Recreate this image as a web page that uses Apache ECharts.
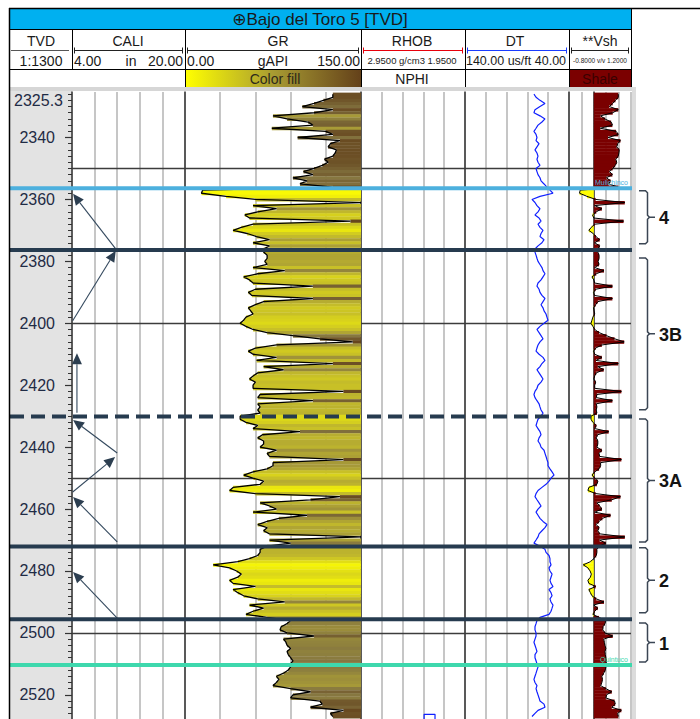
<!DOCTYPE html>
<html>
<head>
<meta charset="utf-8">
<script src="https://cdn.jsdelivr.net/npm/echarts@6/dist/echarts.min.js"></script>
<style>html,body{margin:0;padding:0;background:#fff;}#chart{width:700px;height:719px;}</style>
</head>
<body>
<div id="chart"></div>
<script>
// ---------------- DATA ----------------
const wellTitle = '\u2295Bajo del Toro 5 [TVD]';
const depthTop = 2325.3;
const depthBottom = 2527.8;
const sampleTop = 2326;      // first sample depth (m), 1 m sampling
const sampleStep = 1;

// GR (gAPI), 2326 .. 2527 m
const grValues = [
  126,126,118,110,100,126,110,75,87,105,
  109,74,120,126,96,132,124,122,129,128,
  126,119,122,117,110,101,109,92,104,98,
  126,15,14,35,60,150,58,78,62,51,
  55,141,58,48,41,53,61,72,58,72,
  67,67,70,70,68,70,58,85,62,50,
  55,58,109,60,54,57,109,67,60,54,
  56,58,52,50,47,52,58,70,92,115,
  143,78,60,54,58,78,61,126,67,84,
  62,58,55,60,58,58,135,64,62,109,
  62,64,62,64,47,47,52,62,58,98,
  66,62,67,67,64,78,70,72,135,75,
  75,70,58,50,58,67,64,41,38,60,
  132,107,64,72,78,58,104,80,70,62,
  70,67,72,150,72,90,70,64,64,62,
  55,45,24,38,44,48,45,38,41,60,
  41,45,50,62,85,55,67,58,52,70,
  90,87,82,81,87,110,84,86,87,90,
  87,88,90,92,90,90,88,84,78,80,
  78,75,90,107,92,90,115,117,107,135,124,126
];

// DT (us/ft), 2326 .. 2527 m
const dtValues = [
  73.7,71.7,67.9,63.1,67.9,72.7,73.7,67.9,63.1,66.0,
  69.8,71.7,73.7,71.7,70.8,71.7,68.8,70.8,72.7,70.8,
  69.8,70.8,69.8,67.9,71.7,70.8,69.8,67.9,66.9,64.0,
  61.2,58.3,55.4,67.9,75.6,72.7,70.8,67.9,69.8,72.7,
  68.8,66.9,69.8,67.9,65.0,66.9,67.9,64.0,66.0,69.8,
  72.7,72.7,71.7,70.8,69.8,67.9,66.0,65.0,63.1,65.0,
  66.9,69.8,70.8,68.8,67.9,66.0,63.1,65.0,66.9,65.0,
  64.0,62.1,61.2,60.2,64.0,67.9,70.8,68.8,66.9,65.0,
  67.9,69.8,70.8,71.7,68.8,65.0,63.1,66.0,67.9,70.8,
  68.8,66.9,65.0,66.9,69.8,70.8,72.7,73.7,72.7,70.8,
  68.8,67.9,66.9,65.0,66.9,69.8,70.8,71.7,69.8,67.9,
  66.9,68.8,69.8,67.9,66.9,64.0,63.1,62.1,61.2,60.2,
  60.2,58.3,56.3,54.4,57.3,59.2,62.1,66.0,69.8,71.7,
  72.7,70.8,68.8,66.9,69.8,71.7,69.8,67.9,65.0,61.2,
  63.1,66.0,68.8,69.8,71.7,73.7,67.9,63.1,62.1,59.2,
  58.3,58.3,57.3,59.2,58.3,56.3,57.3,58.3,57.3,55.4,
  59.2,57.3,56.3,58.3,57.3,55.4,56.3,57.3,59.2,67.9,
  70.8,71.7,72.7,72.7,71.7,71.7,72.7,73.7,72.7,71.7,
  70.8,72.7,72.7,71.7,70.8,69.8,70.8,71.7,72.7,73.7,
  72.7,70.8,71.7,70.8,69.8,68.8,67.9,64.0,63.1,69.8,72.7,75.6
];

// Vsh (v/v), 2326 .. 2527 m
const vshValues = [
  0.79,0.79,0.70,0.61,0.50,0.79,0.61,0.22,0.36,0.56,
  0.60,0.21,0.72,0.79,0.46,0.86,0.77,0.74,0.82,0.81,
  0.79,0.71,0.74,0.69,0.61,0.51,0.60,0.41,0.54,0.48,
  0.79,-0.44,-0.46,-0.22,0.06,1.00,0.03,0.26,0.08,-0.04,
  0.00,0.96,0.03,-0.08,-0.16,-0.02,0.07,0.19,0.03,0.19,
  0.13,0.13,0.17,0.17,0.14,0.17,0.03,0.33,0.08,-0.06,
  0.00,0.03,0.60,0.06,-0.01,0.02,0.60,0.13,0.06,-0.01,
  0.01,0.03,-0.03,-0.06,-0.09,-0.03,0.03,0.17,0.41,0.67,
  0.98,0.26,0.06,-0.01,0.03,0.26,0.07,0.79,0.13,0.32,
  0.08,0.03,0.00,0.06,0.03,0.03,0.89,0.10,0.08,0.60,
  0.08,0.10,0.08,0.10,-0.09,-0.09,-0.03,0.08,0.03,0.48,
  0.12,0.08,0.13,0.13,0.10,0.26,0.17,0.19,0.89,0.22,
  0.22,0.17,0.03,-0.06,0.03,0.13,0.10,-0.16,-0.19,0.06,
  0.86,0.58,0.10,0.19,0.26,0.03,0.54,0.28,0.17,0.08,
  0.17,0.13,0.19,1.00,0.19,0.39,0.17,0.10,0.10,0.08,
  0.00,-0.11,-0.34,-0.19,-0.12,-0.08,-0.11,-0.19,-0.16,0.06,
  -0.16,-0.11,-0.06,0.08,0.33,0.00,0.13,0.03,-0.03,0.17,
  0.39,0.36,0.30,0.29,0.36,0.61,0.32,0.34,0.36,0.39,
  0.36,0.37,0.39,0.41,0.39,0.39,0.37,0.32,0.26,0.28,
  0.26,0.22,0.39,0.58,0.41,0.39,0.67,0.69,0.58,0.89,0.77,0.79
];

// NPHI (v/v) – short piece at the bottom of the log
const nphiDepths = [2527.8, 2526.3, 2526.3, 2527.8];
const nphiValues = [0.086, 0.086, 0.023, 0.023];

// Formation tops (m)
const topDepths = [2356.4, 2376.3, 2430.1, 2472.1, 2495.6, 2510.4];
const topNames  = ['Mulichinco', '', '', '', '', 'Quintuco'];

// Unit brackets
const unitLabels  = ['4', '3B', '3A', '2', '1'];
const unitTops    = [2357.2, 2378.9, 2430.9, 2472.5, 2496.8];
const unitBottoms = [2374.3, 2427.9, 2470.6, 2493.5, 2509.4];

// Stacking-pattern arrows in the CALI track: [cali, depth] tail -> head
const arrowTails = [[10.3,2376.3],[4.1,2399.2],[4.7,2428.9],[10.4,2441.9],[4.1,2454.5],[10.4,2470.6],[10.4,2495.2]];
const arrowHeads = [[4.15,2358.2],[10.2,2376.6],[4.7,2409.7],[4.15,2431.2],[10.1,2443.2],[4.15,2456.1],[4.15,2480.3]];

// Depth ticks / labels
const depthLabels = [2340,2360,2380,2400,2420,2440,2460,2480,2500,2520];
const depthTopLabel = [2325.3];
const gridDepths = [2350, 2400, 2450, 2500];
const minorTicks = [];
for (let d = 2326; d <= 2526; d += 2) if (d % 20 !== 0) minorTicks.push(d);

// Header texts
const trackNames = ['TVD', 'CALI', 'GR', 'RHOB', 'DT', '**Vsh'];

// ---------------- BUILD ----------------
const grData  = grValues.map((g, i) => [g, sampleTop + i * sampleStep]);
const dtData  = dtValues.map((v, i) => [v, sampleTop + i * sampleStep]);
const vshData = vshValues.map((v, i) => [v, sampleTop + i * sampleStep]);
const nphiData = nphiValues.map((v, i) => [v, nphiDepths[i]]);
const topData = topDepths.map(d => [0.5, d]);
const unitData = unitTops.map((t, i) => [0.5, t, unitBottoms[i]]);
const arrowData = arrowTails.map((t, i) => [t[0], t[1], arrowHeads[i][0], arrowHeads[i][1]]);
const hlineData = gridDepths.map(d => [0.5, d]);

const FONT = '"Liberation Sans", Arial, "DejaVu Sans", sans-serif';
const TOP = 92, HGT = 627;

const grStops = [
  [0.00, [255,255,0]],
  [0.25, [240,238,10]],
  [0.40, [196,188,42]],
  [0.50, [166,153,56]],
  [0.62, [132,117,64]],
  [0.80, [110,83,40]],
  [1.00, [100,65,25]]
];
function grColor(g) {
  const t = Math.max(0, Math.min(1, g / 150));
  for (let i = 1; i < grStops.length; i++) {
    if (t <= grStops[i][0]) {
      const a = grStops[i-1], b = grStops[i];
      const f = (t - a[0]) / (b[0] - a[0]);
      const c = a[1].map((v, k) => Math.round(v + (b[1][k] - v) * f));
      return 'rgb(' + c.join(',') + ')';
    }
  }
  return 'rgb(100,65,25)';
}

function grFill(params, api) {
  const g = api.value(0), d = api.value(1);
  const a = api.coord([g, d - sampleStep / 2]);
  const b = api.coord([150, d + sampleStep / 2]);
  return { type: 'rect', shape: { x: a[0], y: a[1], width: b[0] - a[0], height: b[1] - a[1] + 0.4 },
           style: { fill: grColor(g) } };
}
function vshFill(params, api) {
  const v = api.value(0), d = api.value(1);
  const a = api.coord([0, d - sampleStep / 2]);
  const b = api.coord([v, d + sampleStep / 2]);
  return { type: 'rect', shape: { x: Math.min(a[0], b[0]), y: a[1], width: Math.abs(b[0] - a[0]), height: b[1] - a[1] + 0.4 },
           style: { fill: v >= 0 ? '#7a0000' : '#ffff00' } };
}
function hlineItem(params, api) {
  const cs = params.coordSys;
  const y = Math.round(api.coord([0, api.value(1)])[1]) + 0.5;
  return { type: 'line', shape: { x1: cs.x, y1: y, x2: cs.x + cs.width, y2: y },
           style: { stroke: '#3c3c3c', lineWidth: 1.5 } };
}
const topStyles = [
  { color: '#4db0de' }, { color: '#263b4f' }, { color: '#263b4f', dash: [14, 7] },
  { color: '#263b4f' }, { color: '#263b4f' }, { color: '#3ed8ad' }
];
function topItem(params, api) {
  const cs = params.coordSys;
  const i = params.dataIndex;
  const y = api.coord([0, api.value(1)])[1];
  const st = topStyles[i];
  const ch = [{ type: 'line', shape: { x1: cs.x, y1: y, x2: cs.x + cs.width, y2: y },
                style: { stroke: st.color, lineWidth: 4, lineDash: st.dash || null } }];
  if (topNames[i]) {
    ch.push({ type: 'text', x: cs.x + cs.width - 8, y: y - 2.5,
              style: { text: topNames[i], fill: st.color, font: '7px ' + FONT,
                       align: 'right', verticalAlign: 'bottom', textAlign: 'right', textVerticalAlign: 'bottom' } });
  }
  return { type: 'group', children: ch };
}
function unitItem(params, api) {
  const cs = params.coordSys;
  const i = params.dataIndex;
  const yt = api.coord([0, api.value(1)])[1];
  const yb = api.coord([0, api.value(2)])[1];
  const ym = (yt + yb) / 2;
  const x0 = cs.x + 3, xv = cs.x + 11.5, xt = cs.x + 19;
  const st = { stroke: '#3b4654', lineWidth: 1.5, fill: null };
  return { type: 'group', children: [
    { type: 'polyline', shape: { points: [[x0, yt], [xv - 2, yt], [xv, yt + 2], [xv, ym - 2], [xv + 2, ym], [xt, ym]] }, style: st },
    { type: 'polyline', shape: { points: [[xv + 2, ym], [xv, ym + 2], [xv, yb - 2], [xv - 2, yb], [x0, yb]] }, style: st },
    { type: 'text', x: cs.x + 23, y: ym + 1,
      style: { text: unitLabels[i], fill: '#141414', font: 'bold 18px ' + FONT,
               align: 'left', verticalAlign: 'middle', textAlign: 'left', textVerticalAlign: 'middle' } }
  ]};
}
function arrowItem(params, api) {
  const p1 = api.coord([api.value(0), api.value(1)]);
  const p2 = api.coord([api.value(2), api.value(3)]);
  const ang = Math.atan2(p2[1] - p1[1], p2[0] - p1[0]);
  const L = 11, W = 5;
  const bx = p2[0] - L * Math.cos(ang), by = p2[1] - L * Math.sin(ang);
  const nx = -Math.sin(ang) * W, ny = Math.cos(ang) * W;
  return { type: 'group', children: [
    { type: 'line', shape: { x1: p1[0], y1: p1[1], x2: bx, y2: by }, style: { stroke: '#34495e', lineWidth: 1.1 } },
    { type: 'polygon', shape: { points: [[p2[0], p2[1]], [bx + nx, by + ny], [bx - nx, by - ny]] }, style: { fill: '#2c3e50' } }
  ]};
}

// grids: 0 depth, 1 CALI, 2 GR, 3 RHOB, 4 DT, 5 Vsh, 6 h-lines, 7 tops, 8 brackets
const gridDefs = [[10,62],[72,113],[185,176],[361,104],[465,104],[569,62],[72,559],[10,626],[636,64]];
const grid = gridDefs.map(g => ({ left: g[0], width: g[1], top: TOP, height: HGT, containLabel: false }));

const hidden = { show: false };
function divAxis(gi) {
  return { gridIndex: gi, type: 'value', min: 0, max: 5, interval: 1,
    axisLine: hidden, axisTick: hidden, axisLabel: hidden,
    splitLine: { show: true, lineStyle: { color: '#b3b3b3', width: 1.5 } } };
}
function dataX(gi, min, max, inverse) {
  return { gridIndex: gi, type: 'value', min, max, inverse: !!inverse, show: false, splitLine: hidden };
}
const xAxis = [
  dataX(0, 0, 1),            // 0
  divAxis(1),                // 1
  dataX(1, 4, 20),           // 2 CALI
  divAxis(2),                // 3
  dataX(2, 0, 150),          // 4 GR
  divAxis(3),                // 5
  dataX(3, -0.15, 0.45, true), // 6 NPHI
  divAxis(4),                // 7
  dataX(4, 40, 140, true),   // 8 DT
  divAxis(5),                // 9
  dataX(5, -0.8, 1.2),       // 10 Vsh
  dataX(6, 0, 1),            // 11
  dataX(7, 0, 1),            // 12
  dataX(8, 0, 1)             // 13
];
function depthY(gi, extra) {
  return Object.assign({ gridIndex: gi, type: 'value', inverse: true, min: depthTop, max: depthBottom,
    axisLine: hidden, axisTick: hidden, axisLabel: hidden, splitLine: hidden }, extra || {});
}
const border = { axisLine: { show: true, lineStyle: { color: '#3a3a3a', width: 1.5 } } };
const yAxis = [
  depthY(0),                                   // 0
  depthY(1, Object.assign({ position: 'left' }, border)), // 1 CALI border
  depthY(1, { position: 'left',                // 2 depth labels + major ticks
    axisTick: { show: true, customValues: depthLabels, length: 7, lineStyle: { color: '#333', width: 1.2 } },
    axisLabel: { show: true, customValues: depthLabels, margin: 17, color: '#1f2b45',
                 fontSize: 16, fontFamily: FONT, formatter: v => String(v) } }),
  depthY(1, { position: 'left',                // 3 minor ticks
    axisTick: { show: true, customValues: minorTicks, length: 4, lineStyle: { color: '#333', width: 1 } } }),
  depthY(1, { position: 'left',                // 4 top depth label
    axisLabel: { show: true, customValues: depthTopLabel, margin: 9, color: '#1f2b45', verticalAlign: 'top',
                 fontSize: 16, fontFamily: FONT, formatter: v => String(v) } }),
  depthY(2, Object.assign({ position: 'left' }, border)),   // 5 GR
  depthY(3, Object.assign({ position: 'left' }, border)),   // 6 RHOB
  depthY(4, Object.assign({ position: 'left' }, border)),   // 7 DT
  depthY(5, Object.assign({ position: 'left' }, border)),   // 8 Vsh
  depthY(5, Object.assign({ position: 'right' }, border)),  // 9 Vsh right
  depthY(6),                                   // 10
  depthY(7),                                   // 11
  depthY(8)                                    // 12
];

const series = [
  { type: 'custom', xAxisIndex: 11, yAxisIndex: 10, data: hlineData, renderItem: hlineItem, encode: { x: 0, y: 1 }, z: 1, silent: true },
  { type: 'custom', xAxisIndex: 4, yAxisIndex: 5, data: grData, renderItem: grFill, encode: { x: 0, y: 1 }, clip: true, z: 2, silent: true },
  { type: 'line', name: 'GR', xAxisIndex: 4, yAxisIndex: 5, data: grData, showSymbol: false, symbol: 'none',
    lineStyle: { color: '#000', width: 1.3 }, clip: true, z: 3, silent: true },
  { type: 'line', name: 'DT', xAxisIndex: 8, yAxisIndex: 7, data: dtData, showSymbol: false, symbol: 'none',
    lineStyle: { color: '#1020ff', width: 1.2 }, clip: true, z: 3, silent: true },
  { type: 'line', name: 'NPHI', xAxisIndex: 6, yAxisIndex: 6, data: nphiData, showSymbol: false, symbol: 'none',
    lineStyle: { color: '#1020ff', width: 1.2 }, clip: true, z: 3, silent: true },
  { type: 'custom', xAxisIndex: 10, yAxisIndex: 8, data: vshData, renderItem: vshFill, encode: { x: 0, y: 1 }, clip: true, z: 2, silent: true },
  { type: 'line', name: 'Vsh', xAxisIndex: 10, yAxisIndex: 8, data: vshData, showSymbol: false, symbol: 'none',
    lineStyle: { color: '#000', width: 1 }, clip: true, z: 3, silent: true },
  { type: 'custom', xAxisIndex: 2, yAxisIndex: 1, data: arrowData, renderItem: arrowItem, encode: { x: [0, 2], y: [1, 3] }, z: 4, silent: true },
  { type: 'custom', xAxisIndex: 12, yAxisIndex: 11, data: topData, renderItem: topItem, encode: { x: 0, y: 1 }, z: 10, silent: true },
  { type: 'custom', xAxisIndex: 13, yAxisIndex: 12, data: unitData, renderItem: unitItem, encode: { x: 0, y: [1, 2] }, z: 10, silent: true }
];

// ---------------- HEADER (graphic) ----------------
const G = [];
function rect(x, y, w, h, fill, z) { G.push({ type: 'rect', shape: { x, y, width: w, height: h }, style: { fill }, z: z == null ? 50 : z, silent: true }); }
function line(x1, y1, x2, y2, stroke, w) { G.push({ type: 'line', shape: { x1, y1, x2, y2 }, style: { stroke, lineWidth: w || 1 }, z: 60, silent: true }); }
function text(x, y, t, size, align, fill, weight) {
  G.push({ type: 'text', x, y, z: 70, silent: true,
    style: { text: t, font: (weight ? weight + ' ' : '') + size + 'px ' + FONT, fill: fill || '#1a1a1a',
             align: align || 'center', verticalAlign: 'middle', textAlign: align || 'center', textVerticalAlign: 'middle' } });
}
// backgrounds
rect(10, 90, 62, 629, '#e3e3e3', -5);
rect(10, 87, 626, 4, '#d6d6d6', 50);
rect(632, 87, 4, 632, '#dcdcdc', 50);
// title bar
rect(10, 9, 621, 20, '#00b0f0', 50);
text(320, 19.5, wellTitle, 17);
// frame / header lines
line(9, 8.5, 700, 8.5, '#000', 1.5);
line(9.5, 8, 9.5, 719, '#000', 1.5);
line(10, 29.5, 631, 29.5, '#000', 1);
line(10, 69.5, 631, 69.5, '#000', 1);
line(631.5, 8, 631.5, 87, '#000', 1);
line(72.5, 29.5, 72.5, 69.5, '#000', 1);
[185.5, 361.5, 465.5, 569.5].forEach(x => line(x, 29.5, x, 87, '#000', 1));
// colour fill row
G.push({ type: 'rect', shape: { x: 186, y: 70, width: 175, height: 17 }, z: 50, silent: true,
  style: { fill: { type: 'linear', x: 0, y: 0, x2: 1, y2: 0,
    colorStops: [{ offset: 0, color: '#ffff00' }, { offset: 0.5, color: '#a89b32' }, { offset: 1, color: '#64411a' }] } } });
rect(570, 70, 61, 17, '#7b0000', 50);
text(275, 78.5, 'Color fill', 14, 'center', '#2e2a1a');
text(412, 78.5, 'NPHI', 14);
text(600, 78.5, 'Shale', 14, 'center', '#3a0000');
// track names
const nameX = [41, 128, 278, 412, 515, 600];
trackNames.forEach((n, i) => text(nameX[i], 40.5, n, 14));
// scale bars
line(11, 50.5, 69, 50.5, '#555', 1);
function scaleBar(x1, x2, c) { line(x1, 50.5, x2, 50.5, c, 1.2); line(x1 + 0.5, 47.5, x1 + 0.5, 53.5, c, 1); line(x2 - 0.5, 47.5, x2 - 0.5, 53.5, c, 1); }
scaleBar(74, 183, '#222');
scaleBar(187, 359, '#222');
scaleBar(363, 463, '#e8000b');
scaleBar(467, 567, '#1a3cff');
scaleBar(571, 629, '#222');
// scale texts
text(41, 60.5, '1:1300', 14);
text(74, 60.5, '4.00', 14, 'left');
text(131, 60.5, 'in', 14);
text(183, 60.5, '20.00', 14, 'right');
text(187, 60.5, '0.00', 14, 'left');
text(273, 60.5, 'gAPI', 14);
text(360, 60.5, '150.00', 14, 'right');
text(412, 60.5, '2.9500 g/cm3 1.9500', 9.5);
text(516, 60.5, '140.00 us/ft 40.00', 12.5);
text(600, 60.5, '-0.8000 v/v 1.2000', 6.5);

const chart = echarts.init(document.getElementById('chart'), null, { renderer: 'svg', width: 700, height: 719 });
chart.setOption({
  animation: false,
  backgroundColor: '#ffffff',
  grid, xAxis, yAxis, series,
  graphic: { elements: G }
});
</script>
</body>
</html>
